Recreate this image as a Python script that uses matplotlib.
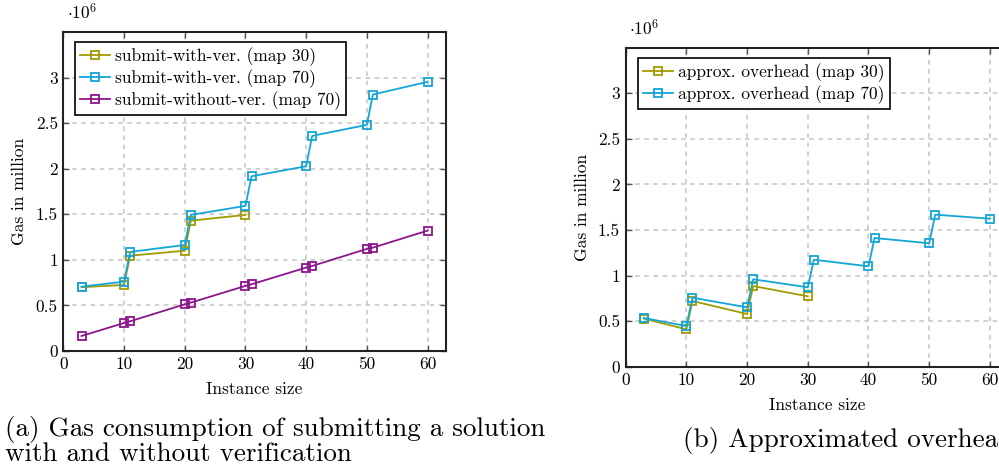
import numpy as np
import matplotlib
matplotlib.use('Agg')
import matplotlib.pyplot as plt

# instance sizes (shared x values)
sizes = [3, 10, 11, 20, 21, 30, 31, 40, 41, 50, 51, 60]

# gas consumption in million, submitting a solution
with_ver_30 = [0.70, 0.725, 1.046, 1.10, 1.43, 1.493]
with_ver_70 = [0.706, 0.761, 1.087, 1.163, 1.493, 1.592, 1.917, 2.027, 2.36, 2.481, 2.814, 2.953]
without_ver_70 = [0.165, 0.307, 0.326, 0.512, 0.531, 0.714, 0.732, 0.915, 0.933, 1.12, 1.134, 1.321]

# approximated overhead in million
overhead_30 = [0.527, 0.41, 0.721, 0.578, 0.885, 0.772]
overhead_70 = [0.534, 0.446, 0.757, 0.651, 0.959, 0.871, 1.174, 1.101, 1.412, 1.354, 1.668, 1.624]

xticks = [0, 10, 20, 30, 40, 50, 60]
yticks = [0, 0.5, 1, 1.5, 2, 2.5, 3]
ytick_labels = ['0', '0.5', '1', '1.5', '2', '2.5', '3']

OLIVE = '#a39a00'
CYAN = '#14a6d6'
PURPLE = '#8c148c'

plt.rcParams['font.family'] = ['cmr10', 'DejaVu Serif']
plt.rcParams['mathtext.fontset'] = 'cm'
plt.rcParams['axes.unicode_minus'] = False
FNT = 12.5
CAP = 19.5

fig = plt.figure(figsize=(9.99, 4.74), dpi=100)


def setup(ax):
    ax.set_xlim(0, 63)
    ax.set_ylim(0, 3.5)
    ax.set_xticks(xticks)
    ax.set_xticklabels([str(t) for t in xticks], fontsize=FNT)
    ax.set_yticks(yticks)
    ax.set_yticklabels(ytick_labels, fontsize=FNT)
    ax.tick_params(direction='in', length=4, width=1, color='#555555',
                   top=True, right=True, pad=4)
    ax.grid(True, color='#c4c4c4', linestyle=(0, (3, 3)), linewidth=1.1)
    ax.set_axisbelow(True)
    for s in ax.spines.values():
        s.set_linewidth(1.5)
        s.set_color('#222222')
    ax.set_xlabel('Instance size', fontsize=FNT, labelpad=7)
    ax.set_ylabel('Gas in million', fontsize=FNT, labelpad=6)
    ax.text(0.01, 1.03, r'$\cdot 10^{6}$', transform=ax.transAxes,
            fontsize=FNT, ha='left', va='bottom')


def series(ax, x, y, color, label):
    ax.plot(x, y, color=color, linewidth=1.3, marker='s', markersize=6,
            markerfacecolor='none', markeredgewidth=1.3, label=label,
            clip_on=False)


def legend(ax, x0):
    leg = ax.legend(loc='upper left', bbox_to_anchor=(x0, 0.969), borderaxespad=0,
                    fontsize=FNT, fancybox=False, framealpha=1, edgecolor='black',
                    handlelength=1.7, handletextpad=0.3, labelspacing=0.2,
                    borderpad=0.3)
    leg.get_frame().set_linewidth(1.2)


# (a) submitting a solution
ax1 = fig.add_axes([0.0634, 0.2595, 0.3828, 0.673])
setup(ax1)
series(ax1, sizes[:6], with_ver_30, OLIVE, 'submit-with-ver. (map 30)')
series(ax1, sizes, with_ver_70, CYAN, 'submit-with-ver. (map 70)')
series(ax1, sizes, without_ver_70, PURPLE, 'submit-without-ver. (map 70)')
legend(ax1, 0.031)

# (b) approximated overhead
ax2 = fig.add_axes([0.6263, 0.2264, 0.3828, 0.673])
setup(ax2)
series(ax2, sizes[:6], overhead_30, OLIVE, 'approx. overhead (map 30)')
series(ax2, sizes, overhead_70, CYAN, 'approx. overhead (map 70)')
legend(ax2, 0.032)

# subfigure captions
fig.text(0.005, 1 - 436 / 474, '(a) Gas consumption of submitting a solution',
         fontsize=CAP, ha='left', va='baseline')
fig.text(0.005, 1 - 461 / 474, 'with and without verification',
         fontsize=CAP, ha='left', va='baseline')
fig.text(683 / 999, 1 - 447 / 474, '(b) Approximated overhead',
         fontsize=CAP, ha='left', va='baseline')

fig.savefig('out.png', dpi=100)
